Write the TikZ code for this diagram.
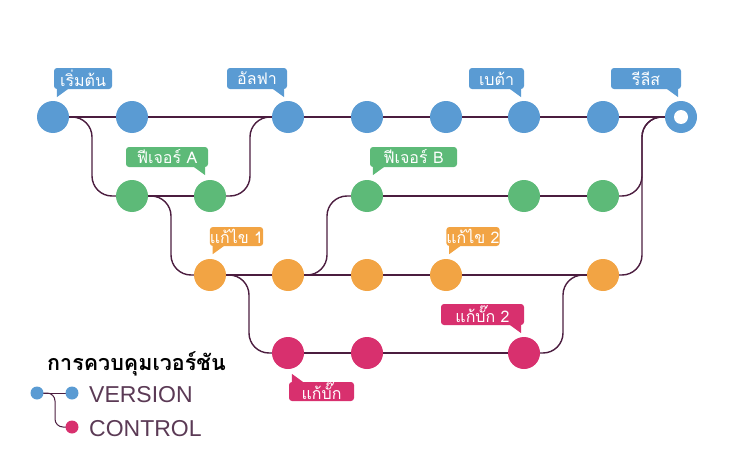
\documentclass[tikz,border=0pt]{standalone}
\usepackage{fontspec}
\setmainfont{Liberation Sans}
\newfontfamily\thai[Script=Thai]{Loma}
\usepackage{tikz}
\usetikzlibrary{backgrounds}

\definecolor{cmain}{HTML}{5A9BD3}
\definecolor{cfeat}{HTML}{5DBA78}
\definecolor{cfix}{HTML}{F2A444}
\definecolor{cbug}{HTML}{D8306E}
\definecolor{cline}{HTML}{4B1D3F}
\definecolor{clegend}{HTML}{5B3A55}

\begin{document}
\begin{tikzpicture}[
    x=1pt, y=-1pt,
    commit/.style={circle, minimum size=32pt, inner sep=0pt},
    dot/.style={circle, minimum size=13pt, inner sep=0pt},
    tag/.style={rectangle, rounded corners=3pt, text=white, font=\thai\fontsize{16}{17}\selectfont, inner sep=0pt, minimum height=21pt},
    branch/.style={draw=cline, line width=1.4pt, rounded corners=20pt},
    legendtext/.style={font=\fontsize{23}{25}\selectfont, text=clegend, inner sep=0pt}
]
\useasboundingbox (0,0) rectangle (740,471);

% Main line (blue)
\node[commit, fill=cmain] (m1) at (53,117) {};
\node[commit, fill=cmain] (m2) at (132,117) {};
\node[commit, fill=cmain] (m3) at (288,117) {};
\node[commit, fill=cmain] (m4) at (367,117) {};
\node[commit, fill=cmain] (m5) at (446,117) {};
\node[commit, fill=cmain] (m6) at (524,117) {};
\node[commit, fill=cmain] (m7) at (603,117) {};
\node[commit, fill=cmain] (m8) at (681,117) {};
\fill[white] (m8.center) circle (7pt);

% Features (green)
\node[commit, fill=cfeat] (f1) at (132,196) {};
\node[commit, fill=cfeat] (f2) at (210,196) {};
\node[commit, fill=cfeat] (f3) at (367,196) {};
\node[commit, fill=cfeat] (f4) at (524,196) {};
\node[commit, fill=cfeat] (f5) at (603,196) {};

% Fixes (orange)
\node[commit, fill=cfix] (x1) at (210,275) {};
\node[commit, fill=cfix] (x2) at (288,275) {};
\node[commit, fill=cfix] (x3) at (367,275) {};
\node[commit, fill=cfix] (x4) at (446,275) {};
\node[commit, fill=cfix] (x5) at (603,275) {};

% Bug fixes (pink)
\node[commit, fill=cbug] (g1) at (288,353) {};
\node[commit, fill=cbug] (g2) at (367,353) {};
\node[commit, fill=cbug] (g3) at (524,353) {};

% Tags
\node[tag, fill=cmain, minimum width=58pt] (tstart) at (83,78.5) {เริ่มต้น};
\node[tag, fill=cmain, minimum width=60pt] (talpha) at (257,78.5) {อัลฟา};
\node[tag, fill=cmain, minimum width=55pt] (tbeta) at (496.5,78.5) {เบต้า};
\node[tag, fill=cmain, minimum width=70pt] (trelease) at (646,78.5) {รีลีส};
\node[tag, fill=cfeat, minimum width=82pt, minimum height=20pt] (tfa) at (167,157) {ฟีเจอร์ A};
\node[tag, fill=cfeat, minimum width=87pt, minimum height=20pt] (tfb) at (413.5,157) {ฟีเจอร์ B};
\node[tag, fill=cfix, minimum width=53pt, minimum height=19pt] (tfix1) at (236.5,236.5) {แก้ไข 1};
\node[tag, fill=cfix, minimum width=52pt, minimum height=19pt] (tfix2) at (473,236.5) {แก้ไข 2};
\node[tag, fill=cbug, minimum width=83pt] (tbug2) at (482.5,314.5) {แก้บั๊ก 2};
\node[tag, fill=cbug, minimum width=65pt, minimum height=19pt] (tbug) at (321.5,391.5) {แก้บั๊ก};

% Tag tails
\fill[cmain] ([xshift=3pt]tstart.south west) -- ++(11pt,0) -- ++(-11pt,-8pt) -- cycle;
\fill[cmain] ([xshift=-3pt]talpha.south east) -- ++(-11pt,0) -- ++(11pt,-8pt) -- cycle;
\fill[cmain] ([xshift=-3pt]tbeta.south east) -- ++(-11pt,0) -- ++(11pt,-8pt) -- cycle;
\fill[cmain] ([xshift=-3pt]trelease.south east) -- ++(-11pt,0) -- ++(11pt,-8pt) -- cycle;
\fill[cfeat] ([xshift=-3pt]tfa.south east) -- ++(-11pt,0) -- ++(11pt,-8pt) -- cycle;
\fill[cfeat] ([xshift=3pt]tfb.south west) -- ++(11pt,0) -- ++(-11pt,-8pt) -- cycle;
\fill[cfix] ([xshift=3pt]tfix1.south west) -- ++(11pt,0) -- ++(-11pt,-8pt) -- cycle;
\fill[cfix] ([xshift=3pt]tfix2.south west) -- ++(11pt,0) -- ++(-11pt,-8pt) -- cycle;
\fill[cbug] ([xshift=-3pt]tbug2.south east) -- ++(-11pt,0) -- ++(11pt,-8pt) -- cycle;
\fill[cbug] ([xshift=3pt]tbug.north west) -- ++(11pt,0) -- ++(-11pt,8pt) -- cycle;

% Legend
\node[font=\thai\bfseries\fontsize{21.5}{23}\selectfont, anchor=base west, inner sep=0pt] (title) at (47,370) {การควบคุมเวอร์ชัน};
\node[dot, fill=cmain] (d1) at (37,393) {};
\node[dot, fill=cmain] (d2) at (72,393) {};
\node[dot, fill=cbug] (d3) at (72,427) {};
\node[legendtext, anchor=base west] (version) at (89,402) {VERSION};
\node[legendtext, anchor=base west] (control) at (89,436) {CONTROL};

% Branch lines
\begin{scope}[on background layer]
\draw[branch] (m1.center) -- (m8.center);
\draw[branch] (m1.center) -- ++(39,0) |- (f1.center);
\draw[branch] (f1.center) -- (f2.center);
\draw[branch] (f2.center) -- ++(40,0) |- (m3.center);
\draw[branch] (f1.center) -- ++(39,0) |- (x1.center);
\draw[branch] (x1.center) -- (x5.center);
\draw[branch] (x2.center) -- ++(39,0) |- (f3.center);
\draw[branch] (f3.center) -- (f5.center);
\draw[branch] (f5.center) -- ++(39,0) |- (m8.center);
\draw[branch] (x5.center) -- ++(39,0) |- (m8.center);
\draw[branch] (x1.center) -- ++(39,0) |- (g1.center);
\draw[branch] (g1.center) -- (g3.center);
\draw[branch] (g3.center) -- ++(39,0) |- (x5.center);
\draw[branch, line width=1pt, rounded corners=8pt] (d1.center) -- (d2.center);
\draw[branch, line width=1pt, rounded corners=8pt] (d1.center) -- ++(18,0) |- (d3.center);
\end{scope}

\end{tikzpicture}
\end{document}
